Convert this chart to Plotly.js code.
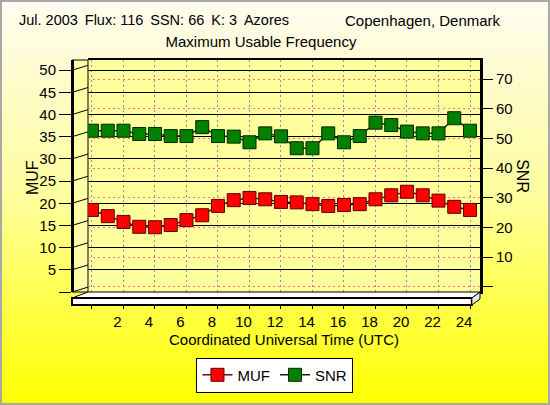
<!DOCTYPE html>
<html>
<head>
<meta charset="utf-8">
<script src="https://cdn.plot.ly/plotly-3.0.1.min.js"></script>
<style>
  html, body { margin: 0; padding: 0; }
  #wrap { position: relative; width: 550px; height: 405px; }
  #chart { width: 550px; height: 405px;
    background: linear-gradient(to bottom, #fffef2 0%, #fffbcc 20%, #ffff9a 50%, #ffff40 78%, #ffff00 100%); }
  #frame { position: absolute; left: 0; top: 0; width: 550px; height: 405px; box-sizing: border-box;
    border: 2px solid #a8a8a8; pointer-events: none; }
</style>
</head>
<body>
<div id="wrap"><div id="chart"></div><div id="frame"></div></div>
<script>
// ---- data ----
const hours = [0,1,2,3,4,5,6,7,8,9,10,11,12,13,14,15,16,17,18,19,20,21,22,23,24];
const mufValues = [18.5,17.1,15.8,14.7,14.6,15.1,16.2,17.3,19.4,20.7,21.2,20.9,20.3,20.2,19.8,19.4,19.6,19.8,20.9,21.8,22.6,21.8,20.6,19.2,18.5];
const snrValues = [52.6,52.6,52.6,51.5,51.5,50.8,50.8,53.8,50.8,50.6,48.7,51.7,50.7,46.7,46.7,51.7,48.7,50.8,55.3,54.5,52.3,51.7,51.7,56.8,52.6];
const xTickVals = [0,2,4,6,8,10,12,14,16,18,20,22,24];
const xTickText = ['','2','4','6','8','10','12','14','16','18','20','22','24'];
const mufTickVals = [0,5,10,15,20,25,30,35,40,45,50];
const mufTickText = ['','5','10','15','20','25','30','35','40','45','50'];
const snrTickVals = [0,10,20,30,40,50,60,70];
const snrTickText = ['','10','20','30','40','50','60','70'];
const headerLeft = 'Jul. 2003 \u2009Flux: 116 \u2009SSN: 66 \u2009K: 3 \u2009Azores';
const headerRight = 'Copenhagen, Denmark';
const chartTitle = 'Maximum Usable Frequency';
const xTitle = 'Coordinated Universal Time (UTC)';
const mufName = 'MUF';
const snrName = 'SNR';

const FONT = 'Liberation Sans, Arial, sans-serif';

const traces = [
  { x: hours, y: mufValues, name: mufName, type: 'scatter', mode: 'lines+markers', yaxis: 'y',
    line: { color: '#7a0000', width: 1.5 },
    marker: { symbol: 'square', size: 13, color: '#ff0000', line: { color: '#600000', width: 1 } } },
  { x: hours, y: snrValues, name: snrName, type: 'scatter', mode: 'lines+markers', yaxis: 'y2',
    line: { color: '#003300', width: 1.5 },
    marker: { symbol: 'square', size: 13, color: '#008000', line: { color: '#002800', width: 1 } } }
];

// decorative 3D wall / floor
const shapes = [
  { type: 'rect', xref: 'paper', yref: 'paper', x0: 0, x1: 0.0392, y0: 0, y1: 1,
    fillcolor: '#ffffa8', line: { color: '#000', width: 1 }, layer: 'below' },
  { type: 'path', xref: 'paper', yref: 'paper',
    path: 'M 0 -0.026 L 0.0392 0 L 1 0 L 0.98 -0.026 Z',
    fillcolor: '#ffffff', line: { color: '#000', width: 1 }, layer: 'above' },
  { type: 'rect', xref: 'paper', yref: 'paper', x0: 0, x1: 0.98, y0: -0.026, y1: -0.056,
    fillcolor: '#ffffff', line: { color: '#000', width: 2 }, layer: 'above' },
  { type: 'path', xref: 'paper', yref: 'paper',
    path: 'M 0.98 -0.026 L 1 0 L 1 -0.03 L 0.98 -0.056 Z',
    fillcolor: '#e8e8e8', line: { color: '#000', width: 1 }, layer: 'above' }
];
mufTickVals.forEach(function (v) {
  shapes.push({ type: 'line', xref: 'paper', yref: 'y', x0: 0, x1: 0.0392, y0: v, y1: v + 1.1,
    line: { color: '#000', width: 1 }, layer: 'above' });
});

const layout = {
  width: 550, height: 405,
  margin: { l: 72, r: 70, t: 60, b: 113 },
  paper_bgcolor: 'rgba(0,0,0,0)',
  plot_bgcolor: '#ffff9e',
  font: { family: FONT, size: 15, color: '#000' },
  title: { text: chartTitle, xref: 'container', yref: 'container', x: 0.4745, y: 0.896,
    xanchor: 'center', yanchor: 'middle', font: { family: FONT, size: 15, color: '#000' } },
  showlegend: true,
  legend: { orientation: 'h', x: 0.4975, xanchor: 'center', y: -0.358, yanchor: 'middle',
    bgcolor: '#ffffff', bordercolor: '#000', borderwidth: 1, itemwidth: 30,
    font: { family: FONT, size: 15, color: '#000' } },
  xaxis: {
    domain: [0.0392, 1], range: [-0.254, 24.635],
    tickvals: xTickVals, ticktext: xTickText, ticks: 'outside', ticklen: 15, tickcolor: '#000',
    ticklabelshift: -6,
    showgrid: true, gridcolor: '#9a86a8', griddash: '2px,3px', gridwidth: 1,
    zeroline: false, showline: true, mirror: true, linecolor: '#000', linewidth: 2,
    title: { text: xTitle, font: { family: FONT, size: 15, color: '#000' }, standoff: 5 }
  },
  yaxis: {
    range: [0, 52.3], anchor: 'free', position: 0,
    tickvals: mufTickVals, ticktext: mufTickText, ticks: 'outside', ticklen: 12, tickcolor: '#000',
    showgrid: true, gridcolor: '#000', gridwidth: 1, zeroline: false,
    showline: true, linecolor: '#000', linewidth: 3
  },
  yaxis2: {
    range: [-1.7, 76.4], overlaying: 'y', side: 'right', anchor: 'x',
    tickvals: snrTickVals, ticktext: snrTickText, ticks: 'outside', ticklen: 10, tickcolor: '#000',
    showgrid: true, gridcolor: '#ff7070', griddash: '2px,3px', gridwidth: 1, zeroline: false,
    showline: true, linecolor: '#000', linewidth: 3
  },
  shapes: shapes,
  annotations: [
    { text: headerLeft, xref: 'paper', yref: 'paper', x: -0.135, y: 1.172, xanchor: 'left', yanchor: 'middle',
      showarrow: false, font: { family: FONT, size: 14.5, color: '#000' } },
    { text: headerRight, xref: 'paper', yref: 'paper', x: 1.056, y: 1.172, xanchor: 'right', yanchor: 'middle',
      showarrow: false, font: { family: FONT, size: 15, color: '#000' } },
    { text: mufName, xref: 'paper', yref: 'paper', x: -0.098, y: 0.491, xanchor: 'center', yanchor: 'middle',
      textangle: -90, showarrow: false, font: { family: FONT, size: 16, color: '#000' } },
    { text: snrName, xref: 'paper', yref: 'paper', x: 1.105, y: 0.5, xanchor: 'center', yanchor: 'middle',
      textangle: 90, showarrow: false, font: { family: FONT, size: 16, color: '#000' } }
  ]
};

Plotly.newPlot('chart', traces, layout, { displayModeBar: false, staticPlot: true });
</script>
</body>
</html>
